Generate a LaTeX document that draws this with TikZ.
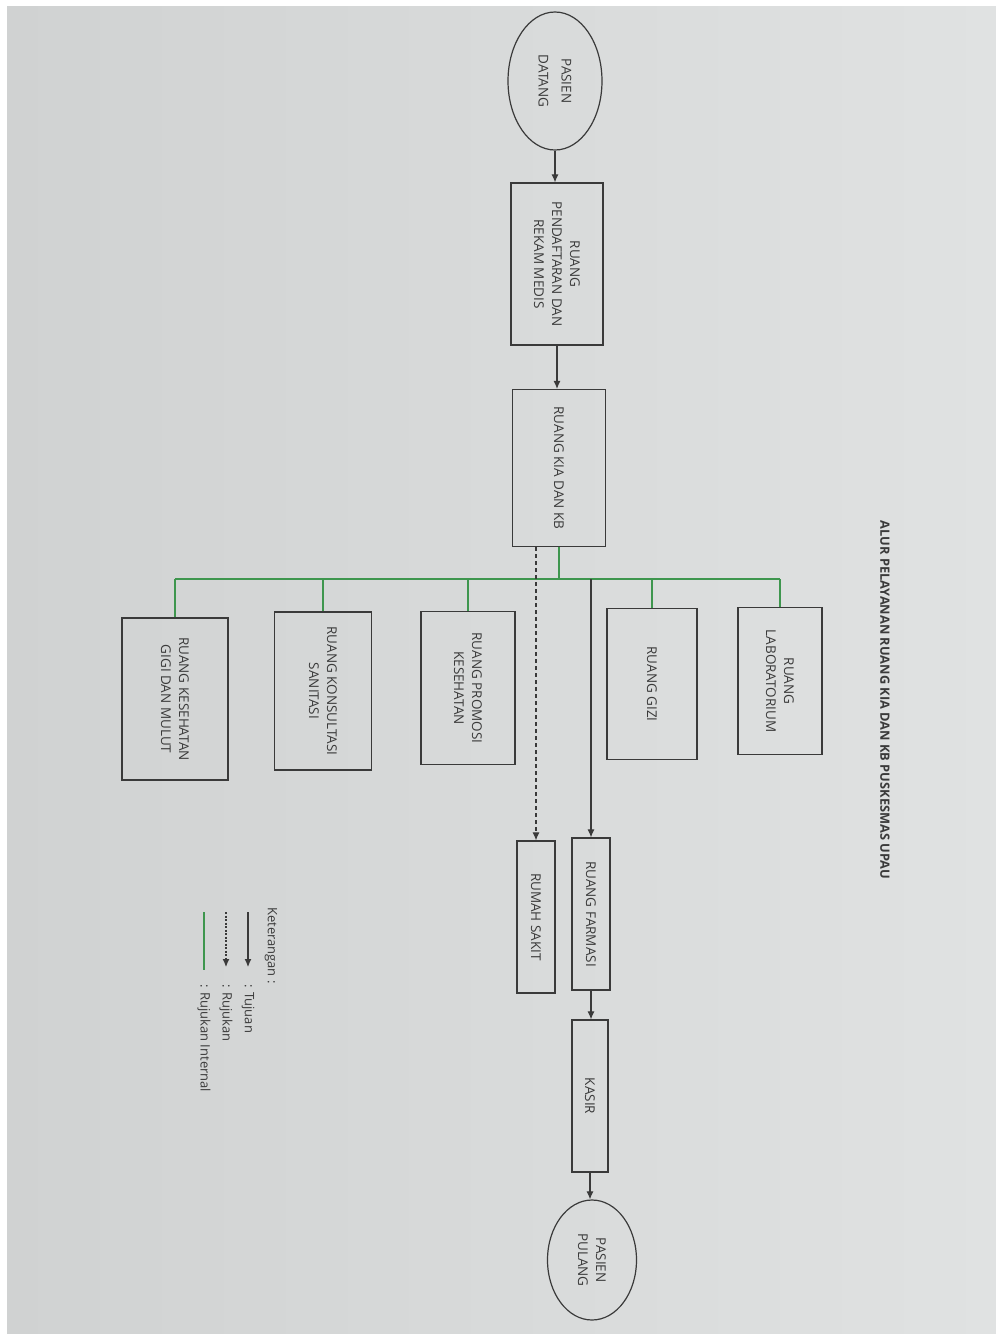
\documentclass[tikz,border=0pt]{standalone}
\usepackage{fontspec}
\setmainfont{Open Sans}
\usetikzlibrary{shapes, positioning, arrows.meta}

\definecolor{paper}{RGB}{208,210,210}
\definecolor{paperlight}{RGB}{224,226,226}
\definecolor{ink}{RGB}{58,58,58}
\definecolor{greenline}{RGB}{62,150,78}

\tikzset{
  room/.style={draw=ink, line width=1.2pt, rotate=-90, text=ink, align=center,
    font=\fontsize{13.5}{18}\selectfont},
  endpoint/.style={room, ellipse},
  legend/.style={rotate=-90, text=ink, inner sep=0pt, font=\fontsize{13}{15}\selectfont},
  tujuan/.style={draw=ink, line width=1.1pt, -{Latex[length=8pt,width=7pt]}},
  rujukan/.style={tujuan, dash pattern=on 4pt off 3pt},
  internal/.style={draw=greenline, line width=1.4pt},
}

\begin{document}
\begin{tikzpicture}[x=1pt, y=-1pt]
    \useasboundingbox (0,0) rectangle (996,1334);
    \fill[white] (0,0) rectangle (996,1334);
    \shade[left color=paper, right color=paperlight] (7,6) rectangle (996,1334);

    \node[legend, font=\bfseries\fontsize{12.8}{15}\selectfont] (judul) at (885,700)
        {ALUR PELAYANAN RUANG KIA DAN KB PUSKESMAS UPAU};

    % alur utama
    \node[endpoint, minimum width=138pt, minimum height=94pt] (datang) at (555,81) {PASIEN\\[5pt]DATANG};
    \node[room, minimum width=162pt, minimum height=92pt] (daftar) at (557,264) {RUANG\\PENDAFTARAN DAN\\REKAM MEDIS};
    \node[room, minimum width=157pt, minimum height=93pt] (kia) at (559,468) {RUANG KIA DAN KB};

    % ruang rujukan internal
    \node[room, minimum width=162pt, minimum height=106pt] (gigi) at (175,699) {RUANG KESEHATAN\\GIGI DAN MULUT};
    \node[room, minimum width=158pt, minimum height=97pt] (sanitasi) at (323,691) {RUANG KONSULTASI\\SANITASI};
    \node[room, minimum width=153pt, minimum height=94pt] (promosi) at (468,688) {RUANG PROMOSI\\KESEHATAN};
    \node[room, minimum width=151pt, minimum height=90pt] (gizi) at (652,684) {RUANG GIZI};
    \node[room, minimum width=147pt, minimum height=84pt] (lab) at (780,681) {RUANG\\LABORATORIUM};

    \node[room, minimum width=152pt, minimum height=38pt] (farmasi) at (591,914) {RUANG FARMASI};
    \node[room, minimum width=152pt, minimum height=38pt] (rs) at (536,917) {RUMAH SAKIT};
    \node[room, minimum width=152pt, minimum height=36pt] (kasir) at (590,1096) {KASIR};
    \node[endpoint, minimum width=120pt, minimum height=89pt] (pulang) at (592,1260) {PASIEN\\PULANG};

    \coordinate (bus) at (560,579);

    \draw[tujuan] (datang.east) -- (datang.east |- daftar.west);
    \draw[tujuan] (daftar.east) -- (daftar.east |- kia.west);
    \draw[internal] (kia.east) -- (kia.east |- bus);
    \draw[internal] (gigi.west |- bus) -- (lab.west |- bus);
    \foreach \r in {gigi, sanitasi, promosi, gizi, lab} {
        \draw[internal] (\r.west |- bus) -- (\r.west);
    }
    \draw[tujuan] (farmasi.west |- bus) -- (farmasi.west);
    \draw[rujukan] (kia.east -| rs.west) -- (rs.west);
    \draw[tujuan] (farmasi.east) -- (farmasi.east |- kasir.west);
    \draw[tujuan] (kasir.east) -- (kasir.east |- pulang.west);

    % keterangan
    \node[legend, anchor=west] (ket) at (271,907) {Keterangan :};
    \node[legend, anchor=west] (tuj) at (248,984) {: Tujuan};
    \node[legend, anchor=west] (ruj) at (226,984) {: Rujukan};
    \node[legend, anchor=west] (int) at (204,984) {: Rujukan Internal};

    \draw[tujuan] ([yshift=72pt]tuj.west) -- ([yshift=17pt]tuj.west);
    \draw[rujukan, dash pattern=on 2pt off 1.5pt] ([yshift=72pt]ruj.west) -- ([yshift=17pt]ruj.west);
    \draw[internal] ([yshift=72pt]int.west) -- ([yshift=14pt]int.west);
\end{tikzpicture}
\end{document}
